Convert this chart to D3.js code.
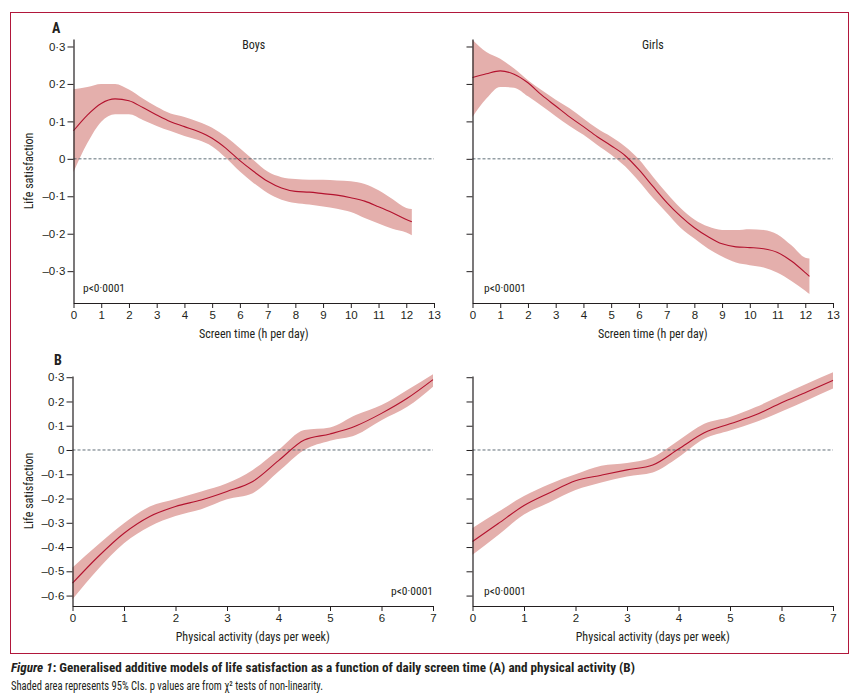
<!DOCTYPE html>
<html>
<head>
<meta charset="utf-8">
<script src="https://cdn.jsdelivr.net/npm/d3@7"></script>
<style>
  body { margin: 0; background: #fff; }
  svg text { font-family: "Liberation Sans Narrow", "Roboto Condensed", "Liberation Sans", sans-serif; fill: #231f20; }
</style>
</head>
<body>
<div id="chart"></div>
<script>
// Screen time (h per day)
const screenX = [0, 0.5, 1, 1.5, 2, 2.5, 3, 3.5, 4, 4.5, 5, 5.5, 6, 6.5, 7, 7.5, 8, 8.5, 9, 9.5, 10, 10.5, 11, 11.5, 12, 12.2];
const boysScreenFit = [0.075, 0.117, 0.148, 0.16, 0.155, 0.137, 0.117, 0.099, 0.086, 0.073, 0.055, 0.028, -0.005, -0.034, -0.06, -0.078, -0.087, -0.089, -0.093, -0.097, -0.104, -0.113, -0.128, -0.144, -0.162, -0.168];
const boysScreenHi = [0.186, 0.192, 0.2, 0.2, 0.185, 0.161, 0.139, 0.121, 0.112, 0.099, 0.083, 0.059, 0.028, -0.004, -0.034, -0.049, -0.054, -0.056, -0.056, -0.058, -0.06, -0.067, -0.084, -0.107, -0.131, -0.134];
const boysScreenLo = [-0.035, 0.042, 0.099, 0.119, 0.119, 0.104, 0.088, 0.074, 0.061, 0.05, 0.033, 0.002, -0.034, -0.065, -0.091, -0.109, -0.118, -0.122, -0.127, -0.133, -0.142, -0.158, -0.173, -0.187, -0.197, -0.204];

const girlsScreenX = [0, 0.5, 1, 1.5, 2, 2.5, 3, 3.5, 4, 4.5, 5, 5.5, 6, 6.5, 7, 7.5, 8, 8.5, 9, 9.5, 10, 10.5, 11, 11.5, 12, 12.15];
const girlsScreenFit = [0.217, 0.227, 0.235, 0.226, 0.203, 0.17, 0.141, 0.112, 0.086, 0.059, 0.035, 0.009, -0.029, -0.073, -0.116, -0.153, -0.184, -0.208, -0.227, -0.235, -0.237, -0.24, -0.25, -0.273, -0.304, -0.314];
const girlsScreenHi = [0.318, 0.285, 0.267, 0.241, 0.21, 0.183, 0.158, 0.135, 0.108, 0.081, 0.059, 0.033, -0.001, -0.047, -0.091, -0.131, -0.162, -0.181, -0.19, -0.19, -0.188, -0.19, -0.202, -0.231, -0.264, -0.266];
const girlsScreenLo = [0.112, 0.161, 0.192, 0.19, 0.167, 0.141, 0.114, 0.088, 0.064, 0.037, 0.011, -0.02, -0.06, -0.104, -0.144, -0.184, -0.213, -0.24, -0.261, -0.277, -0.284, -0.29, -0.304, -0.326, -0.352, -0.361];

// Physical activity (days per week)
const activityX = [0, 0.5, 1, 1.5, 2, 2.5, 3, 3.5, 4, 4.5, 5, 5.5, 6, 6.5, 7];
const boysActFit = [-0.549, -0.439, -0.343, -0.274, -0.233, -0.206, -0.171, -0.13, -0.044, 0.041, 0.066, 0.099, 0.151, 0.213, 0.29];
const boysActHi = [-0.484, -0.39, -0.302, -0.233, -0.202, -0.171, -0.137, -0.082, 0.0, 0.082, 0.093, 0.144, 0.185, 0.247, 0.312];
const boysActLo = [-0.615, -0.49, -0.384, -0.315, -0.272, -0.244, -0.203, -0.178, -0.089, 0.0, 0.038, 0.062, 0.123, 0.178, 0.261];

const girlsActFit = [-0.377, -0.303, -0.229, -0.176, -0.127, -0.104, -0.082, -0.062, 0.004, 0.071, 0.108, 0.145, 0.195, 0.24, 0.287];
const girlsActHi = [-0.321, -0.255, -0.19, -0.14, -0.1, -0.065, -0.054, -0.03, 0.039, 0.108, 0.136, 0.177, 0.226, 0.274, 0.32];
const girlsActLo = [-0.432, -0.35, -0.266, -0.215, -0.165, -0.134, -0.109, -0.093, -0.03, 0.046, 0.08, 0.115, 0.159, 0.205, 0.253];

const screenTicks = d3.range(0, 14);
const activityTicks = d3.range(0, 8);
const screenYTicks = [-0.3, -0.2, -0.1, 0, 0.1, 0.2, 0.3];
const activityYTicks = [-0.6, -0.5, -0.4, -0.3, -0.2, -0.1, 0, 0.1, 0.2, 0.3];

const fmt = v => (v < 0 ? '\u2013' : '') + String(Math.abs(v)).replace('.', '\u00b7');

const W = 862, H = 699;
const svg = d3.select('#chart').append('svg').attr('width', W).attr('height', H);

// outer frame
svg.append('rect')
    .attr('x', 10.5).attr('y', 12.5).attr('width', 838).attr('height', 641)
    .attr('fill', 'none').attr('stroke', '#b1173b').attr('stroke-width', 1);

const panels = [
    { xs: screenX, fit: boysScreenFit, hi: boysScreenHi, lo: boysScreenLo, xDom: [0, 13], xr: [73.5, 434], yDom: [-0.385, 0.32], yr: [303, 39],
      xt: screenTicks, yt: screenYTicks, labels: true, title: 'Boys', xlab: 'Screen time (h per day)', p: { x: 83, y: 292, anchor: 'start' } },
    { xs: girlsScreenX, fit: girlsScreenFit, hi: girlsScreenHi, lo: girlsScreenLo, xDom: [0, 13], xr: [472.5, 833], yDom: [-0.385, 0.32], yr: [303, 39],
      xt: screenTicks, yt: screenYTicks, labels: false, title: 'Girls', xlab: 'Screen time (h per day)', p: { x: 484, y: 292, anchor: 'start' } },
    { xs: activityX, fit: boysActFit, hi: boysActHi, lo: boysActLo, xDom: [0, 7], xr: [72.5, 433], yDom: [-0.643, 0.305], yr: [606, 376],
      xt: activityTicks, yt: activityYTicks, labels: true, title: null, xlab: 'Physical activity (days per week)', p: { x: 433, y: 595, anchor: 'end' } },
    { xs: activityX, fit: girlsActFit, hi: girlsActHi, lo: girlsActLo, xDom: [0, 7], xr: [472.5, 833], yDom: [-0.643, 0.305], yr: [606, 376],
      xt: activityTicks, yt: activityYTicks, labels: false, title: null, xlab: 'Physical activity (days per week)', p: { x: 484, y: 595, anchor: 'start' } }
];

panels.forEach(pn => {
    const x = d3.scaleLinear().domain(pn.xDom).range(pn.xr);
    const y = d3.scaleLinear().domain(pn.yDom).range(pn.yr);
    const g = svg.append('g');
    const pts = pn.xs.map((v, i) => ({ x: v, f: pn.fit[i], h: pn.hi[i], l: pn.lo[i] }));

    // confidence band
    g.append('path')
        .attr('d', d3.area().curve(d3.curveMonotoneX)
            .x(d => x(d.x)).y0(d => y(d.l)).y1(d => y(d.h))(pts))
        .attr('fill', '#e4afac');

    // reference line at zero
    g.append('line')
        .attr('x1', x(0)).attr('x2', x(pn.xDom[1]))
        .attr('y1', y(0)).attr('y2', y(0))
        .attr('stroke', '#4f5f69').attr('stroke-width', 0.9).attr('stroke-dasharray', '3,2');

    // fitted curve
    g.append('path')
        .attr('d', d3.line().curve(d3.curveMonotoneX).x(d => x(d.x)).y(d => y(d.f))(pts))
        .attr('fill', 'none').attr('stroke', '#b3122e').attr('stroke-width', 1.1);

    // axes
    const xAxis = g.append('g').attr('transform', `translate(0,${pn.yr[0]})`)
        .call(d3.axisBottom(x).tickValues(pn.xt).tickSize(5).tickPadding(3).tickSizeOuter(0).tickFormat(d3.format('d')));
    const yAxis = g.append('g').attr('transform', `translate(${pn.xr[0]},0)`)
        .call(d3.axisLeft(y).tickValues(pn.yt).tickSize(6).tickPadding(2).tickSizeOuter(0)
            .tickFormat(pn.labels ? fmt : ''));
    [xAxis, yAxis].forEach(a => {
        a.select('.domain').attr('stroke', '#231f20').attr('stroke-width', 1.2);
        a.selectAll('.tick line').attr('stroke', '#231f20').attr('stroke-width', 1);
        a.selectAll('.tick text').attr('font-size', 11.5).attr('fill', '#231f20')
            .style('font-family', '"Liberation Sans Narrow", "Liberation Sans", sans-serif');
    });

    if (pn.title) {
        g.append('text').attr('x', (pn.xr[0] + pn.xr[1]) / 2).attr('y', 49)
            .attr('text-anchor', 'middle').attr('font-size', 12).text(pn.title);
    }
    g.append('text').attr('x', (pn.xr[0] + pn.xr[1]) / 2).attr('y', pn.yr[0] + 35)
        .attr('text-anchor', 'middle').attr('font-size', 12).text(pn.xlab);
    g.append('text').attr('x', pn.p.x).attr('y', pn.p.y)
        .attr('text-anchor', pn.p.anchor).attr('font-size', 11.5).text('p<0\u00b70001');
    if (pn.labels) {
        g.append('text')
            .attr('transform', `translate(33,${(pn.yr[0] + pn.yr[1]) / 2}) rotate(-90)`)
            .attr('text-anchor', 'middle').attr('font-size', 12).text('Life satisfaction');
    }
});

// panel letters
svg.append('text').attr('x', 52).attr('y', 33).attr('font-size', 14).attr('font-weight', 'bold').text('A');
svg.append('text').attr('x', 54).attr('y', 365).attr('font-size', 14).attr('font-weight', 'bold').text('B');

// caption
const cap = svg.append('text').attr('x', 11).attr('y', 672).attr('font-size', 13).attr('font-weight', 'bold')
    .attr('textLength', 624).attr('lengthAdjust', 'spacingAndGlyphs');
cap.append('tspan').attr('font-style', 'italic').text('Figure 1');
cap.append('tspan').text(': Generalised additive models of life satisfaction as a function of daily screen time (A) and physical activity (B)');
svg.append('text').attr('x', 11).attr('y', 690).attr('font-size', 13)
    .attr('textLength', 312).attr('lengthAdjust', 'spacingAndGlyphs')
    .text('Shaded area represents 95% CIs. p values are from \u03c7\u00b2 tests of non-linearity.');
</script>
</body>
</html>
